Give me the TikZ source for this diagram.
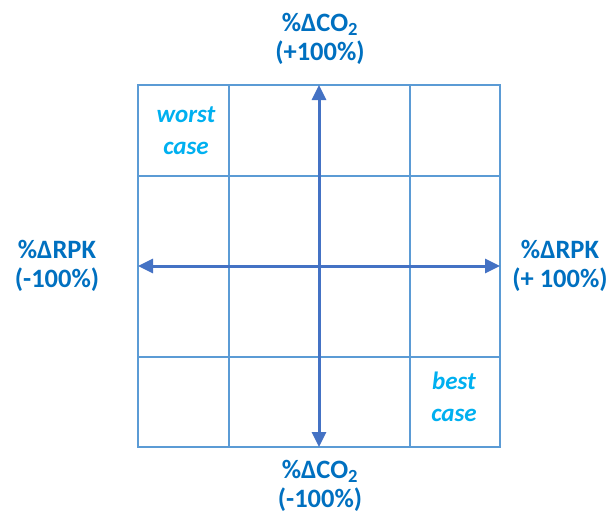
\documentclass[tikz,border=0pt]{standalone}
\usepackage{fontspec}
\setmainfont{Carlito}
\usetikzlibrary{arrows.meta}
\definecolor{gridblue}{HTML}{5B9BD5}
\definecolor{axisblue}{HTML}{4472C4}
\definecolor{labelblue}{HTML}{0070C0}
\definecolor{caseblue}{HTML}{00B0F0}
\tikzset{
  gridline/.style={draw=gridblue, line width=2pt},
  axisarrow/.style={draw=axisblue, line width=3pt, {Triangle[length=15pt,width=14pt]}-{Triangle[length=15pt,width=14pt]}},
  axislabel/.style={text=labelblue, align=center, font=\fontsize{26.5}{29}\selectfont\bfseries, inner sep=0pt},
  caselabel/.style={text=caseblue, align=center, font=\fontsize{25}{32}\selectfont\bfseries\itshape, inner sep=0pt}
}
\begin{document}
\begin{tikzpicture}[x=1pt,y=-1pt]
\useasboundingbox (0,0) rectangle (613,514);
% grid
\draw[gridline] (138,85) rectangle (500,447);
\draw[gridline] (229,85) -- (229,447);
\draw[gridline] (410,85) -- (410,447);
\draw[gridline] (138,176) -- (500,176);
\draw[gridline] (138,357) -- (500,357);
% axes endpoints
\coordinate (ytop) at (319,85);
\coordinate (ybot) at (319,447);
\coordinate (xleft) at (138,266);
\coordinate (xright) at (500,266);
\draw[axisarrow] (ybot) -- (ytop);
\draw[axisarrow] (xleft) -- (xright);
% labels
\node[axislabel] (top) at (320,39) {\%ΔCO\textsubscript{2}\\(+100\%)};
\node[axislabel] (bottom) at (320,486) {\%ΔCO\textsubscript{2}\\(-100\%)};
\node[axislabel] (left) at (57,266) {\%ΔRPK\\(-100\%)};
\node[axislabel] (right) at (560,266) {\%ΔRPK\\(+ 100\%)};
\node[caselabel] (worst) at (186,131) {worst\\case};
\node[caselabel] (best) at (454,397) {best\\case};
\end{tikzpicture}
\end{document}
